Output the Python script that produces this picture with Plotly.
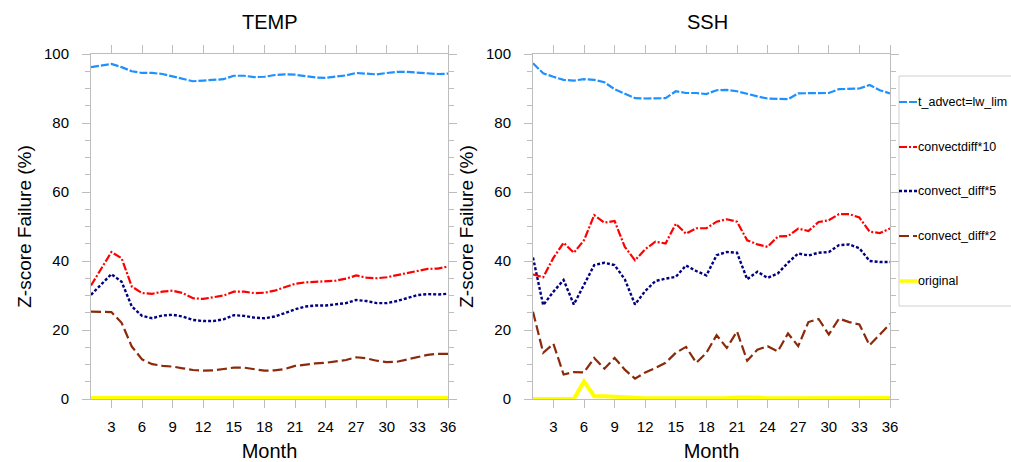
import plotly.graph_objects as go

# Month index shared by both panels
months = list(range(1, 37))
month_ticks = list(range(3, 37, 3))

# TEMP panel: Z-score failure rate (%)
temp_t_advect = [96.2, 96.7, 97.1, 96.2, 95.0, 94.5, 94.5, 94.2, 93.5, 92.7,
                 92.1, 92.3, 92.6, 92.7, 93.7, 93.7, 93.3, 93.4, 93.9, 94.1,
                 94.0, 93.5, 93.2, 93.1, 93.5, 93.8, 94.5, 94.3, 94.1, 94.5,
                 94.8, 94.8, 94.6, 94.4, 94.2, 94.3]
temp_convectdiff10 = [32.9, 37.8, 42.6, 40.8, 32.6, 30.7, 30.5, 31.1, 31.4, 30.7,
                      29.2, 29.0, 29.4, 30.0, 31.1, 31.1, 30.7, 30.8, 31.4, 32.4,
                      33.4, 33.8, 34.0, 34.3, 34.3, 34.9, 35.8, 35.2, 35.0, 35.3,
                      35.9, 36.5, 37.3, 37.7, 37.8, 38.4]
temp_convect_diff5 = [30.2, 33.2, 36.2, 34.0, 26.8, 24.1, 23.4, 24.2, 24.4, 23.9,
                      22.9, 22.6, 22.6, 23.1, 24.3, 24.1, 23.6, 23.4, 23.9, 24.9,
                      26.0, 26.8, 27.1, 27.1, 27.5, 27.8, 28.7, 28.4, 27.8, 27.8,
                      28.4, 29.2, 30.1, 30.4, 30.3, 30.5]
temp_convect_diff2 = [25.3, 25.2, 25.2, 22.1, 15.2, 11.5, 10.1, 9.6, 9.4, 8.9,
                      8.4, 8.2, 8.3, 8.7, 9.1, 9.1, 8.6, 8.2, 8.3, 8.7,
                      9.6, 10.0, 10.3, 10.5, 10.8, 11.3, 12.1, 11.8, 11.1, 10.7,
                      10.8, 11.5, 12.3, 12.8, 13.1, 13.1]
temp_original = [0.3] * 36

# SSH panel: Z-score failure rate (%)
ssh_t_advect = [97.3, 94.4, 93.4, 92.5, 92.3, 92.7, 92.5, 91.8, 89.8, 88.4,
                87.2, 87.1, 87.2, 87.2, 89.2, 88.7, 88.7, 88.4, 89.5, 89.6,
                89.2, 88.4, 87.7, 87.1, 86.9, 86.9, 88.6, 88.6, 88.6, 88.7,
                89.8, 89.8, 90.0, 91.0, 89.5, 88.6]
ssh_convectdiff10 = [36.1, 35.3, 40.9, 45.3, 42.4, 46.0, 53.3, 51.1, 51.6, 44.1,
                     40.2, 43.4, 45.6, 45.1, 50.8, 47.9, 49.5, 49.5, 51.4, 52.1,
                     51.4, 46.0, 44.8, 44.1, 47.1, 47.2, 49.4, 48.7, 51.3, 51.8,
                     53.6, 53.6, 52.6, 48.5, 48.1, 49.4]
ssh_convect_diff5 = [41.0, 27.2, 31.1, 34.5, 27.4, 33.2, 38.8, 39.5, 38.8, 34.7,
                     27.4, 31.3, 34.2, 34.9, 35.4, 38.7, 37.1, 35.8, 41.7, 42.6,
                     42.4, 34.7, 36.9, 35.1, 36.4, 39.5, 42.2, 41.6, 42.4, 42.6,
                     44.6, 44.8, 43.7, 40.0, 39.7, 39.7]
ssh_convect_diff2 = [25.3, 13.4, 16.0, 7.1, 7.8, 7.7, 11.9, 8.8, 11.9, 8.5,
                     5.9, 7.7, 9.0, 10.5, 13.4, 15.1, 10.5, 13.4, 18.5, 14.8,
                     19.6, 11.1, 14.3, 15.3, 13.8, 19.0, 15.3, 22.3, 23.2, 18.7,
                     23.3, 22.3, 21.6, 15.6, 18.7, 21.8]
ssh_original = [0.0, 0.0, 0.0, 0.0, 0.0, 5.1, 0.8, 0.8, 0.6, 0.4,
                0.2, 0.2, 0.2, 0.2, 0.1, 0.1, 0.2, 0.2, 0.3, 0.3,
                0.4, 0.5, 0.4, 0.2, 0.2, 0.2, 0.2, 0.3, 0.2, 0.2,
                0.2, 0.3, 0.2, 0.1, 0.2, 0.3]

series_names = ["t_advect=lw_lim", "convectdiff*10", "convect_diff*5",
                "convect_diff*2", "original"]
series_colors = ["#1e90ff", "#ff0000", "#000080", "#8b2a0a", "#ffff00"]
series_dashes = ["8px,2px", "8px,2px,2px,2px", "3px,2px", "10px,4px", "solid"]
series_widths = [2.2, 2.2, 2.4, 2.2, 4]

temp_values = [temp_t_advect, temp_convectdiff10, temp_convect_diff5,
               temp_convect_diff2, temp_original]
ssh_values = [ssh_t_advect, ssh_convectdiff10, ssh_convect_diff5,
              ssh_convect_diff2, ssh_original]

W, H = 1011, 462
FONT = "Liberation Sans, Arial, Helvetica, sans-serif"
FRAME = "#bdbdbd"


def fx(px):
    return px / W


def fy(py):
    return 1 - py / H


fig = go.Figure()

for axis_id, values in (("", temp_values), ("2", ssh_values)):
    # draw the yellow baseline first so the other curves sit on top
    for i in [4, 3, 2, 1, 0]:
        fig.add_trace(go.Scatter(
            x=months, y=values[i], mode="lines", name=series_names[i],
            line=dict(color=series_colors[i], width=series_widths[i],
                      dash=series_dashes[i]),
            xaxis="x" + axis_id, yaxis="y" + axis_id, showlegend=False,
        ))

y_dom = [fy(399), fy(54)]
common_x = dict(
    range=[1, 36], tickvals=month_ticks, ticks="outside", ticklen=8,
    tickcolor=FRAME, tickwidth=1, showline=True, linecolor=FRAME, linewidth=1,
    mirror="ticks", showgrid=False, zeroline=False, automargin=False,
    tickfont=dict(size=15, color="#000000", family=FONT),
    ticklabelstandoff=6,
    title=dict(text="Month", font=dict(size=20, color="#000000", family=FONT),
               standoff=9),
)
common_y = dict(
    range=[0, 100], dtick=20, ticks="outside", ticklen=8, tickcolor=FRAME,
    tickwidth=1, showline=True, linecolor=FRAME, linewidth=1, mirror="ticks",
    showgrid=False, zeroline=False, automargin=False,
    minor=dict(dtick=5, ticks="outside", ticklen=5, tickcolor=FRAME,
               showgrid=False),
    tickfont=dict(size=15, color="#000000", family=FONT),
    ticklabelstandoff=10,
    title=dict(text="Z-score Failure (%)",
               font=dict(size=19, color="#000000", family=FONT), standoff=7),
    domain=y_dom,
)

fig.update_layout(
    width=W, height=H, margin=dict(l=0, r=0, t=0, b=0),
    paper_bgcolor="#ffffff", plot_bgcolor="#ffffff",
    font=dict(family=FONT, color="#000000"),
    xaxis=dict(common_x, domain=[fx(91), fx(448)], anchor="y"),
    yaxis=dict(common_y, anchor="x"),
    xaxis2=dict(common_x, domain=[fx(533), fx(890)], anchor="y2"),
    yaxis2=dict(common_y, anchor="x2"),
    showlegend=False,
)

# Panel titles
for label, cx in (("TEMP", 270), ("SSH", 707)):
    fig.add_annotation(text=label, x=fx(cx), y=fy(22), xref="paper",
                       yref="paper", showarrow=False, xanchor="center",
                       yanchor="middle",
                       font=dict(size=20, color="#000000", family=FONT))

# Legend panel at the right edge
leg_left, leg_top, leg_bottom = 899, 76, 306
fig.add_shape(type="rect", xref="paper", yref="paper",
              x0=fx(leg_left), x1=fx(1016), y0=fy(leg_bottom), y1=fy(leg_top),
              line=dict(color="#d0d0d0", width=1), fillcolor="#ffffff",
              layer="above")
entry_y = [102, 147, 191, 236, 281]
for i, name in enumerate(series_names):
    fig.add_shape(type="line", xref="paper", yref="paper",
                  x0=fx(leg_left), x1=fx(917), y0=fy(entry_y[i]),
                  y1=fy(entry_y[i]),
                  line=dict(color=series_colors[i],
                            width=series_widths[i] if i < 4 else 3.5,
                            dash=series_dashes[i]), layer="above")
    fig.add_annotation(text=name, x=fx(916), y=fy(entry_y[i]), xref="paper",
                       yref="paper", showarrow=False, xanchor="left",
                       yanchor="middle",
                       font=dict(size=12.5, color="#000000", family=FONT))

fig.write_html("out.html")
